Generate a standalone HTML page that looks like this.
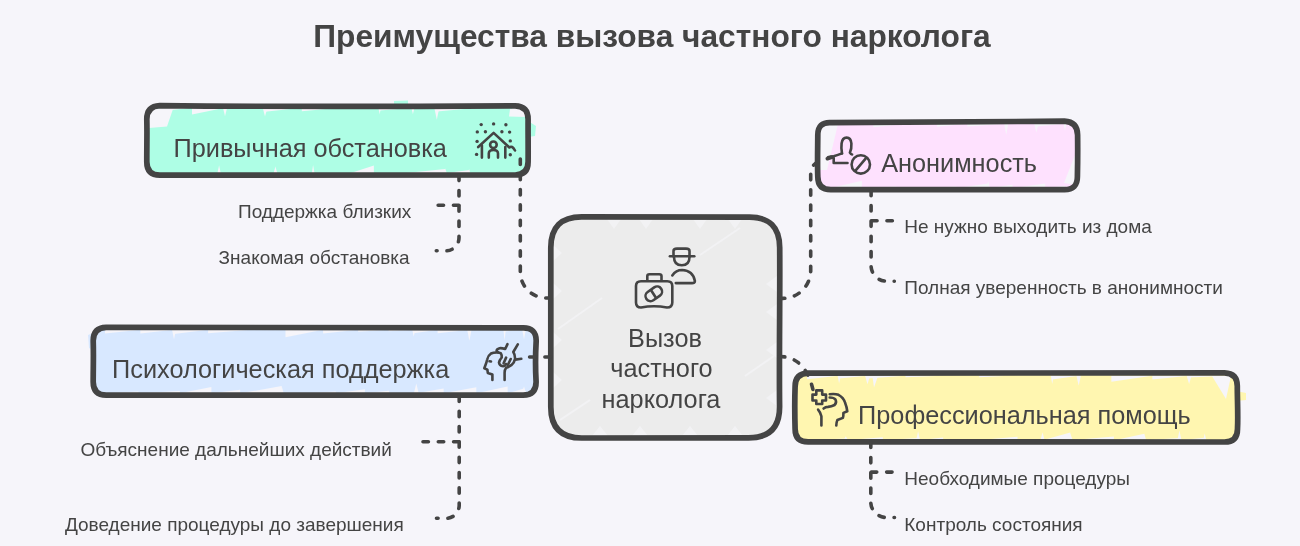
<!DOCTYPE html>
<html><head><meta charset="utf-8">
<style>
html,body{margin:0;padding:0;background:#f6f5fa;}
body{width:1300px;height:546px;overflow:hidden;position:relative;}
svg{position:absolute;left:0;top:0;will-change:transform;}
text{font-family:"Liberation Sans",sans-serif;fill:#444;}
.t{font-size:31.7px;font-weight:700;}
.l{font-size:25.3px;}
.s{font-size:19px;}
.box{fill:none;stroke:#444;stroke-width:5.7;stroke-linejoin:round;}
.dash{fill:none;stroke:#444;stroke-width:3.6;stroke-linecap:round;stroke-dasharray:5.4 9.9;}
.ic{fill:none;stroke:#444;stroke-width:2.6;stroke-linecap:round;stroke-linejoin:round;}
</style></head>
<body>
<svg width="1300" height="546" viewBox="0 0 1300 546">
<text class="t" x="313.3" y="46.5">Преимущества вызова частного нарколога</text>

<path fill="#aefee5" d="M160.0,106.0 C277.1,106.0 394.3,106.0 515.0,106.0 Q528.0,106.0 528.0,119.0 C528.0,133.2 528.0,147.4 528.0,162.0 Q528.0,175.0 515.0,175.0 C397.9,175.0 280.7,175.0 160.0,175.0 Q147.0,175.0 147.0,162.0 C147.0,147.8 147.0,133.6 147.0,119.0 Q147.0,106.0 160.0,106.0Z"/>
<polygon fill="#f6f5fa" points="159,107.7 192.0,107.7 159,111.5"/>
<polygon fill="#f6f5fa" points="192.0,107.7 225.0,107.7 192.0,114.5"/>
<polygon fill="#f6f5fa" points="223.0,107.7 227.1,107.7 225.0,116.3"/>
<polygon fill="#f6f5fa" points="262.7,107.7 267.4,107.7 265.0,116.5"/>
<polygon fill="#f6f5fa" points="265.0,107.7 301.8,107.7 265.0,111.7"/>
<polygon fill="#f6f5fa" points="301.8,107.7 338.9,107.7 301.8,111.3"/>
<polygon fill="#f6f5fa" points="378.4,107.7 380.9,107.7 379.7,114.4"/>
<polygon fill="#f6f5fa" points="379.7,107.7 412.9,107.7 379.7,110.4"/>
<polygon fill="#f6f5fa" points="411.4,107.7 414.5,107.7 412.9,114.3"/>
<polygon fill="#f6f5fa" points="434.3,107.7 439.3,107.7 436.8,119.7"/>
<polygon fill="#f6f5fa" points="436.8,107.7 477.8,107.7 436.8,111.5"/>
<polygon fill="#f6f5fa" points="512.0,107.7 516,107.7 512.0,113.7"/>
<polygon fill="#f6f5fa" points="513.9,107.7 518.1,107.7 516,112.8"/>
<polygon fill="#f6f5fa" points="217.4,173.3 220.7,173.3 219.1,165.3"/>
<polygon fill="#f6f5fa" points="273.6,173.3 277.3,173.3 275.4,166.5"/>
<polygon fill="#f6f5fa" points="311.8,173.3 314.5,173.3 313.1,164.9"/>
<polygon fill="#f6f5fa" points="350.1,173.3 373.9,173.3 373.9,165.4"/>
<polygon fill="#f6f5fa" points="403.9,173.3 445.1,173.3 445.1,169.0"/>
<polygon fill="#f6f5fa" points="443.3,173.3 446.9,173.3 445.1,168.4"/>
<polygon fill="#f6f5fa" points="445.1,173.3 469.1,173.3 469.1,170.1"/>
<polygon fill="#f6f5fa" points="467.8,173.3 470.4,173.3 469.1,168.9"/>
<polygon fill="#f6f5fa" points="149,109 173,109 167,126.5 149,128"/>
<polygon fill="#f6f5fa" points="510,109 526,109 526,117 509,116.4"/>
<polygon fill="#aefee5" points="394,101 408,100.5 408,106 394,106"/>
<polygon fill="#aefee5" points="528,121 536,126 535,136 528,137"/>
<path fill="#fee1fe" d="M831.0,122.0 C907.9,122.0 984.8,122.0 1064.0,122.0 Q1077.0,122.0 1077.0,135.0 C1077.0,148.9 1077.0,162.7 1077.0,177.0 Q1077.0,190.0 1064.0,190.0 C987.1,190.0 910.2,190.0 831.0,190.0 Q818.0,190.0 818.0,177.0 C818.0,163.1 818.0,149.3 818.0,135.0 Q818.0,122.0 831.0,122.0Z"/>
<polygon fill="#f6f5fa" points="873.3,123.7 906.3,123.7 873.3,127.3"/>
<polygon fill="#f6f5fa" points="937.1,123.7 967.4,123.7 937.1,126.7"/>
<polygon fill="#f6f5fa" points="967.4,123.7 1006.2,123.7 967.4,126.5"/>
<polygon fill="#f6f5fa" points="1004.2,123.7 1008.2,123.7 1006.2,134.9"/>
<polygon fill="#f6f5fa" points="1034.2,123.7 1038.5,123.7 1036.3,132.4"/>
<polygon fill="#f6f5fa" points="1036.3,123.7 1065,123.7 1036.3,126.6"/>
<polygon fill="#f6f5fa" points="1063.6,123.7 1066.4,123.7 1065,131.0"/>
<polygon fill="#f6f5fa" points="830,188.3 861.8,188.3 861.8,180.7"/>
<polygon fill="#f6f5fa" points="861.8,188.3 896.1,188.3 896.1,186.4"/>
<polygon fill="#f6f5fa" points="923.7,188.3 956.1,188.3 956.1,186.5"/>
<polygon fill="#f6f5fa" points="956.1,188.3 988.2,188.3 988.2,183.4"/>
<polygon fill="#f6f5fa" points="986.5,188.3 989.9,188.3 988.2,180.9"/>
<polygon fill="#f6f5fa" points="988.2,188.3 1012.5,188.3 1012.5,184.8"/>
<polygon fill="#f6f5fa" points="1012.5,188.3 1045.2,188.3 1045.2,183.5"/>
<polygon fill="#f6f5fa" points="1045.2,188.3 1065,188.3 1065,185.8"/>
<polygon fill="#f6f5fa" points="820,124 838,124 827,170 820,170"/>
<polygon fill="#f6f5fa" points="1077,150 1064,183 1077,185"/>
<path fill="#d8e8ff" d="M106.0,328.0 C243.6,328.0 381.2,328.0 523.0,328.0 Q536.0,328.0 536.0,341.0 C536.0,354.5 536.0,368.1 536.0,382.0 Q536.0,395.0 523.0,395.0 C385.4,395.0 247.8,395.0 106.0,395.0 Q93.0,395.0 93.0,382.0 C93.0,368.5 93.0,354.9 93.0,341.0 Q93.0,328.0 106.0,328.0Z"/>
<polygon fill="#f6f5fa" points="105,329.7 140.4,329.7 105,333.5"/>
<polygon fill="#f6f5fa" points="140.4,329.7 174.0,329.7 140.4,333.6"/>
<polygon fill="#f6f5fa" points="172.0,329.7 176.0,329.7 174.0,339.3"/>
<polygon fill="#f6f5fa" points="174.0,329.7 208.1,329.7 174.0,333.9"/>
<polygon fill="#f6f5fa" points="208.1,329.7 251.1,329.7 208.1,333.2"/>
<polygon fill="#f6f5fa" points="285.5,329.7 323.1,329.7 285.5,337.3"/>
<polygon fill="#f6f5fa" points="323.1,329.7 358.2,329.7 323.1,333.5"/>
<polygon fill="#f6f5fa" points="358.2,329.7 388.6,329.7 358.2,331.7"/>
<polygon fill="#f6f5fa" points="388.6,329.7 413.7,329.7 388.6,331.3"/>
<polygon fill="#f6f5fa" points="412.2,329.7 415.3,329.7 413.7,336.4"/>
<polygon fill="#f6f5fa" points="413.7,329.7 437.6,329.7 413.7,333.3"/>
<polygon fill="#f6f5fa" points="437.6,329.7 469.4,329.7 437.6,333.3"/>
<polygon fill="#f6f5fa" points="467.2,329.7 471.5,329.7 469.4,340.8"/>
<polygon fill="#f6f5fa" points="503.4,329.7 505.8,329.7 504.6,340.4"/>
<polygon fill="#f6f5fa" points="504.6,329.7 524,329.7 504.6,331.4"/>
<polygon fill="#f6f5fa" points="522.2,329.7 525.8,329.7 524,339.3"/>
<polygon fill="#f6f5fa" points="105,393.3 138.5,393.3 138.5,391.5"/>
<polygon fill="#f6f5fa" points="138.5,393.3 179.8,393.3 179.8,391.0"/>
<polygon fill="#f6f5fa" points="179.8,393.3 211.4,393.3 211.4,387.1"/>
<polygon fill="#f6f5fa" points="211.4,393.3 240.1,393.3 240.1,389.7"/>
<polygon fill="#f6f5fa" points="240.1,393.3 281.7,393.3 281.7,386.1"/>
<polygon fill="#f6f5fa" points="279.7,393.3 283.7,393.3 281.7,386.3"/>
<polygon fill="#f6f5fa" points="306.2,393.3 335.8,393.3 335.8,391.5"/>
<polygon fill="#f6f5fa" points="335.8,393.3 364.9,393.3 364.9,389.3"/>
<polygon fill="#f6f5fa" points="364.9,393.3 389.1,393.3 389.1,390.8"/>
<polygon fill="#f6f5fa" points="413.9,393.3 418.7,393.3 416.3,383.6"/>
<polygon fill="#f6f5fa" points="416.3,393.3 443.6,393.3 443.6,388.4"/>
<polygon fill="#f6f5fa" points="443.6,393.3 476.3,393.3 476.3,387.2"/>
<polygon fill="#f6f5fa" points="476.3,393.3 507.6,393.3 507.6,386.5"/>
<polygon fill="#f6f5fa" points="507.6,393.3 524,393.3 524,388.5"/>
<polygon fill="#f6f5fa" points="521.8,393.3 526.2,393.3 524,386.4"/>
<polygon fill="#d8e8ff" points="88,335 93,333 93,350 89,348"/>
<path fill="#fff6b0" d="M808.0,374.0 C945.6,374.0 1083.2,374.0 1225.0,374.0 Q1238.0,374.0 1238.0,387.0 C1238.0,400.9 1238.0,414.7 1238.0,429.0 Q1238.0,442.0 1225.0,442.0 C1087.4,442.0 949.8,442.0 808.0,442.0 Q795.0,442.0 795.0,429.0 C795.0,415.1 795.0,401.3 795.0,387.0 Q795.0,374.0 808.0,374.0Z"/>
<polygon fill="#f6f5fa" points="807,375.7 839.1,375.7 807,379.3"/>
<polygon fill="#f6f5fa" points="837.6,375.7 840.7,375.7 839.1,383.4"/>
<polygon fill="#f6f5fa" points="839.1,375.7 867.5,375.7 839.1,378.5"/>
<polygon fill="#f6f5fa" points="865.0,375.7 870.0,375.7 867.5,384.3"/>
<polygon fill="#f6f5fa" points="867.5,375.7 905.5,375.7 867.5,378.4"/>
<polygon fill="#f6f5fa" points="905.5,375.7 942.9,375.7 905.5,377.3"/>
<polygon fill="#f6f5fa" points="979.3,375.7 1008.6,375.7 979.3,377.3"/>
<polygon fill="#f6f5fa" points="1050.8,375.7 1053.7,375.7 1052.2,384.0"/>
<polygon fill="#f6f5fa" points="1052.2,375.7 1078.7,375.7 1052.2,379.5"/>
<polygon fill="#f6f5fa" points="1076.4,375.7 1080.9,375.7 1078.7,385.4"/>
<polygon fill="#f6f5fa" points="1111.4,375.7 1152.4,375.7 1111.4,381.8"/>
<polygon fill="#f6f5fa" points="1152.4,375.7 1189.1,375.7 1152.4,379.5"/>
<polygon fill="#f6f5fa" points="1186.6,375.7 1191.5,375.7 1189.1,384.1"/>
<polygon fill="#f6f5fa" points="1189.1,375.7 1226,375.7 1189.1,377.5"/>
<polygon fill="#f6f5fa" points="807,440.3 845.8,440.3 845.8,438.6"/>
<polygon fill="#f6f5fa" points="843.7,440.3 848.0,440.3 845.8,436.2"/>
<polygon fill="#f6f5fa" points="845.8,440.3 882.8,440.3 882.8,437.2"/>
<polygon fill="#f6f5fa" points="882.8,440.3 918.1,440.3 918.1,438.0"/>
<polygon fill="#f6f5fa" points="916.1,440.3 920.1,440.3 918.1,431.3"/>
<polygon fill="#f6f5fa" points="918.1,440.3 943.1,440.3 943.1,437.5"/>
<polygon fill="#f6f5fa" points="976.6,440.3 1017.5,440.3 1017.5,436.7"/>
<polygon fill="#f6f5fa" points="1040.5,440.3 1044.6,440.3 1042.5,432.2"/>
<polygon fill="#f6f5fa" points="1042.5,440.3 1070.3,440.3 1070.3,432.4"/>
<polygon fill="#f6f5fa" points="1067.8,440.3 1072.7,440.3 1070.3,433.4"/>
<polygon fill="#f6f5fa" points="1070.3,440.3 1113.9,440.3 1113.9,436.6"/>
<polygon fill="#f6f5fa" points="1113.9,440.3 1144.5,440.3 1144.5,433.7"/>
<polygon fill="#f6f5fa" points="1142.7,440.3 1146.2,440.3 1144.5,434.5"/>
<polygon fill="#f6f5fa" points="1144.5,440.3 1179.4,440.3 1179.4,438.0"/>
<polygon fill="#f6f5fa" points="1177.4,440.3 1181.5,440.3 1179.4,430.6"/>
<polygon fill="#f6f5fa" points="1179.4,440.3 1204.7,440.3 1204.7,437.8"/>
<polygon fill="#f6f5fa" points="1203.2,440.3 1206.3,440.3 1204.7,433.6"/>
<polygon fill="#f6f5fa" points="872.4,376 878,376 874,387.5"/>
<polygon fill="#f6f5fa" points="1212,376 1231,376 1226,399"/>
<polygon fill="#fff6b0" points="1236,391 1246,393 1246,400 1236,401"/>
<path fill="#ececec" d="M581.8,216.7 C636.8,216.7 691.9,216.7 748.6,216.7 Q779.6,216.7 779.6,247.7 C779.6,300.2 779.6,352.8 779.6,406.9 Q779.6,437.9 748.6,437.9 C693.6,437.9 638.5,437.9 581.8,437.9 Q550.8,437.9 550.8,406.9 C550.8,354.4 550.8,301.8 550.8,247.7 Q550.8,216.7 581.8,216.7Z"/>
<polygon fill="#f2f2f4" points="607,219 621,219 614,229"/>
<polygon fill="#f2f2f4" points="639,219 653,219 646,229"/>
<polygon fill="#f2f2f4" points="693,219 707,219 700,229"/>
<polygon fill="#f2f2f4" points="728,219 742,219 735,229"/>
<polygon fill="#f2f2f4" points="592,436 608,436 600,426"/>
<polygon fill="#f2f2f4" points="632,436 648,436 640,426"/>
<polygon fill="#f2f2f4" points="682,436 698,436 690,426"/>
<polygon fill="#f2f2f4" points="727,436 743,436 735,426"/>
<polygon fill="#f2f2f4" points="553,245 553,261 562,253"/>
<polygon fill="#f2f2f4" points="553,283 553,299 562,291"/>
<polygon fill="#f2f2f4" points="553,332 553,348 562,340"/>
<polygon fill="#f2f2f4" points="553,372 553,388 562,380"/>
<polygon fill="#f2f2f4" points="777,276 777,292 766,284"/>
<polygon fill="#f2f2f4" points="777,304 777,320 766,312"/>
<polygon fill="#f2f2f4" points="777,342 777,358 766,350"/>
<polygon fill="#f2f2f4" points="777,390 777,406 766,398"/>
<path d="M558,329 L602,298" stroke="#f2f2f4" stroke-width="2" fill="none"/>
<path d="M745,376 L774,356" stroke="#f2f2f4" stroke-width="2" fill="none"/>
<path d="M700,255 L740,228" stroke="#f2f2f4" stroke-width="2" fill="none"/>
<path d="M560,420 L590,400" stroke="#f2f2f4" stroke-width="2" fill="none"/>
<path class="box" d="M159.8,105.6 C277.0,106.8 394.3,106.6 515.1,105.8 Q528.1,106.2 528.1,119.2 C528.0,133.3 528.3,147.4 528.1,161.9 Q528.1,174.9 515.1,175.0 C397.9,174.3 280.6,174.1 159.8,175.1 Q146.8,174.9 146.8,161.9 C146.7,147.8 147.2,133.7 146.8,119.2 Q146.8,106.2 159.8,105.6Z"/>
<path class="box" d="M830.8,122.6 C907.9,122.6 985.0,121.2 1064.4,121.2 Q1077.4,121.9 1077.6,134.9 C1077.8,148.7 1077.7,162.5 1077.4,176.7 Q1077.4,189.7 1064.4,189.6 C987.3,189.9 910.2,189.9 830.8,189.7 Q817.8,189.7 817.8,176.7 C817.3,162.9 817.7,149.1 817.8,134.9 Q817.8,121.9 830.8,122.6Z"/>
<path class="box" d="M106.2,327.3 C243.8,327.8 381.4,327.5 523.1,327.9 Q536.1,327.7 536.2,340.7 C535.4,354.3 535.3,367.9 536.1,381.9 Q536.1,394.9 523.1,395.1 C385.5,394.5 247.9,394.5 106.2,395.1 Q93.2,394.9 93.2,381.9 C93.2,368.3 93.7,354.7 93.2,340.7 Q93.2,327.7 106.2,327.3Z"/>
<path class="box" d="M808.1,373.1 C945.5,372.9 1082.9,373.3 1224.5,372.9 Q1237.5,373.5 1237.3,386.5 C1237.3,400.5 1238.2,414.5 1237.5,428.9 Q1237.5,441.9 1224.5,442.0 C1087.1,442.3 949.7,441.5 808.1,441.9 Q795.1,441.9 795.1,428.9 C794.7,414.9 794.6,400.9 795.1,386.5 Q795.1,373.5 808.1,373.1Z"/>
<path class="box" d="M581.8,216.8 C636.8,217.0 691.9,217.1 748.6,217.2 Q779.6,216.7 779.7,247.7 C780.1,300.2 779.0,352.8 779.6,406.9 Q779.6,437.9 748.6,437.9 C693.6,438.4 638.5,438.1 581.8,438.0 Q550.8,437.9 550.8,406.9 C550.3,354.4 550.8,301.8 550.8,247.7 Q550.8,216.7 581.8,216.8Z"/>

<path class="dash" d="M520.3,159 V272 A26,26 0 0 0 546.3,298 H548.5"/>
<path class="dash" d="M779.45,298.4 H782.7 A28,28 0 0 0 810.7,270.4 V175 Q810.7,163 822,160.5 L834,156.5"/>
<path class="dash" d="M529.6,357 H551"/>
<path class="dash" d="M779.45,356.5 Q806,356.5 813.5,392"/>
<path class="dash" d="M459,175.2 V237.8 A13,13 0 0 1 446,250.8 H436.3"/>
<path class="dash" d="M438.15,205.2 H459"/>
<path class="dash" d="M871.1,190.35 V265.7 A15.5,15.5 0 0 0 886.6,281.2 H894.3"/>
<path class="dash" d="M892.35,220.8 H871.1"/>
<path class="dash" d="M459.2,396 V505.3 A13,13 0 0 1 446.2,518.3 H436.5"/>
<path class="dash" d="M423,441.8 H459.2"/>
<path class="dash" d="M870.8,442.15 V502 A15.5,15.5 0 0 0 886.3,517.5 H894.5"/>
<path class="dash" d="M892.05,472.1 H870.8"/>

<!-- icon house -->
<g class="ic" stroke-width="2.8">
<path d="M478.2,147 L493.6,132.9 L509.4,147.5 Q512,145 515,150.5"/>
<path d="M481.9,145.2 V157.6 M505.3,147 V157.6"/>
<circle cx="493.4" cy="144.8" r="3.3"/>
<path d="M488.8,157.6 V153.5 Q488.8,150 493.4,150 Q498,150 498,153.5 V157.6"/>
</g>
<g fill="#444">
<circle cx="481.2" cy="124.6" r="1.7"/><circle cx="493.6" cy="123.9" r="1.7"/><circle cx="505.9" cy="124.8" r="1.7"/>
<circle cx="477.3" cy="131.9" r="1.7"/><circle cx="485.4" cy="131.8" r="1.7"/><circle cx="501.9" cy="131.8" r="1.7"/><circle cx="509.6" cy="132.1" r="1.7"/>
<circle cx="477.1" cy="141.4" r="1.7"/><circle cx="510.3" cy="140.9" r="1.7"/>
<circle cx="476.6" cy="154.4" r="1.7"/><circle cx="510.3" cy="154.8" r="1.7"/>
</g>
<!-- icon person ban -->
<g class="ic" stroke-width="2.7">
<path d="M842,153.4 Q841,148 841.6,143.5 Q842.3,137.6 846.6,137.6 Q850.9,137.6 851.4,143.5 Q851.7,149 849.9,152.6 Q850.9,154.3 852.1,154.5"/>
<path d="M828,157.3 Q830.5,156.5 833.7,156.3 Q838,155 842,153.4 M833.7,156.3 V163 H847.5"/>
<circle cx="860.8" cy="164.4" r="9.2"/>
<path d="M855.7,170.3 L865.8,158.4"/>
</g>
<!-- icon psych -->
<g class="ic" stroke-width="2.8">
<path d="M507.5,344.1 L505.2,349 Q502,348 499.6,348.2 Q496.5,349 496.6,351 Q497.5,352.6 500.8,353.2 Q502,355 501.7,357.5 Q499.5,360 499,362.5 Q499.5,365.5 502,366 Q505,366.5 506,364"/>
<path d="M498,352.5 Q493.5,352.3 491,353.5 Q488,355.5 487.2,359.5 Q486.5,362.5 485.5,365 L484.3,368.2 L487.4,369.6 L487.8,372.9 L492.4,374.4 V380"/>
<path d="M489.5,361.3 L491,361.5"/>
<path d="M506.1,357.6 L503.6,363.2 M510.7,359 L507.8,365"/>
<path d="M517.8,344.4 L513.3,352 Q515.3,355 515,359 Q514.5,362.5 511.3,365.2 Q508.5,367 506.1,367.8 Q504.5,370 504.6,373 V380"/>
<path d="M515.4,359.6 L521.3,358.8"/>
</g>
<!-- icon head cross -->
<g class="ic" stroke-width="3">
<path d="M816.3,394.6 V390.4 H822.2 V394.6 H826 V400.5 H822.2 V404 H816.3 V400.5 H812.5 V394.6 Z"/>
<path d="M829.7,394.2 Q835,393.5 838.5,394.8 Q843.5,397.5 845,402.5 Q846.8,407 847.3,411.3 L843.4,412.9 Q843.5,416 842.9,417.9 L837.4,420 Q836.3,422.5 836.3,425.5"/>
<path d="M829.7,397.5 Q834,397.5 835.5,399.5 Q837,402.5 834.5,405 Q831.5,406.5 828,406.9 Q825.5,407 823.6,408.5"/>
<path d="M818.1,409.6 Q820.5,412.5 821.4,416.2 V425.5"/>
</g>
<!-- icon doctor -->
<g class="ic" stroke-width="2.6">
<path d="M673.5,256.3 V251 Q673.5,248.6 677,248.6 H686 Q689.5,248.6 689.5,251 V256.3"/>
<path d="M669.9,256.3 H694.3"/>
<path d="M674,256.9 Q674,265.2 681.8,265.2 Q689.5,265.2 689.5,256.9"/>
<path d="M672.3,275.4 Q676,270 682,270 Q693,270.5 694.9,281 Q695,283.1 692,283.1 H675.8"/>
<path d="M641,281.3 H667.3 Q672.3,281.3 672.3,286 V302.5 Q672.3,307.5 667,307.5 Q654,305 641,307.5 Q636,307.5 636,302.5 V286 Q636,281.3 641,281.3 Z"/>
<path d="M647.3,280.7 V276 Q647.3,274.2 649.5,274.2 H659.3 Q661.5,274.2 661.5,276 V280.7"/>
<rect x="644.8" y="288.8" width="18" height="10" rx="5" transform="rotate(-35 653.8 293.8)"/>
<path d="M651.4,290.8 L655.6,297.2"/>
</g>



<text class="l" x="173.5" y="156.8">Привычная обстановка</text>
<text class="l" x="881.2" y="171.8">Анонимность</text>
<text class="l" x="112.1" y="377.6">Психологическая поддержка</text>
<text class="l" x="858.1" y="424.2">Профессиональная помощь</text>
<text class="l" x="665" y="346.5" text-anchor="middle">Вызов</text>
<text class="l" x="661.5" y="377.3" text-anchor="middle">частного</text>
<text class="l" x="661" y="407.5" text-anchor="middle">нарколога</text>
<text class="s" x="238" y="217.6">Поддержка близких</text>
<text class="s" x="218.6" y="263.6">Знакомая обстановка</text>
<text class="s" x="80.4" y="455.6">Объяснение дальнейших действий</text>
<text class="s" x="64.9" y="531.3">Доведение процедуры до завершения</text>
<text class="s" x="904.3" y="233.3">Не нужно выходить из дома</text>
<text class="s" x="904.3" y="294.4">Полная уверенность в анонимности</text>
<text class="s" x="904.3" y="485.3">Необходимые процедуры</text>
<text class="s" x="904.3" y="531.2">Контроль состояния</text>
</svg>
</body></html>
